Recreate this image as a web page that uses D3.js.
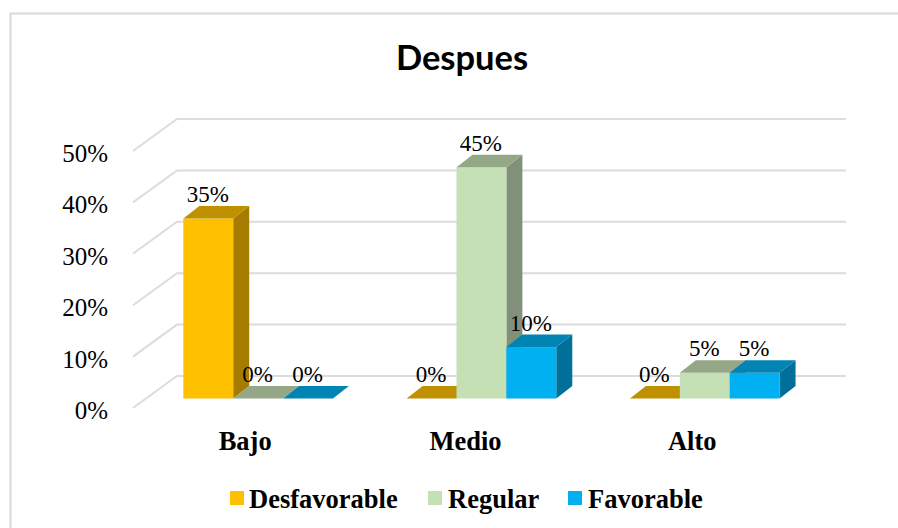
<!DOCTYPE html>
<html><head><meta charset="utf-8">
<script src="https://cdn.jsdelivr.net/npm/d3@7/dist/d3.min.js"></script>
<style>html,body{margin:0;padding:0;background:#fff}svg{display:block}
text{font-family:"Liberation Serif",serif;fill:#000}</style></head>
<body><svg id="c" width="898" height="528"></svg>
<script>
const categories = ["Bajo", "Medio", "Alto"];
const seriesNames = ["Desfavorable", "Regular", "Favorable"];
const desfavorable = [35, 0, 0];
const regular = [0, 45, 5];
const favorable = [0, 10, 5];
const yTicks = [0, 10, 20, 30, 40, 50];
const front = ["#FFC000", "#C5E0B4", "#00B0F0"];
const top3 = ["#BF9000", "#94A887", "#0084B4"];
const side = ["#A67C00", "#80907A", "#006F9A"];

const values = [desfavorable, regular, favorable];
const svg = d3.select("#c");
const y = d3.scaleLinear().domain([0, 50]).range([398.5, 141.5]);
const x0 = d3.scaleBand().domain(categories).range([146.5, 816.4]).paddingInner(0.33).paddingOuter(0.165);
const x1 = d3.scaleBand().domain(seriesNames).range([0, x0.bandwidth()]);
const dx = 16, dy = 12.5;
const wallDx = 44, wallDy = 32, floorOff = 9.5;

// frame
svg.append("path").attr("d", "M10.5,528V13.5H898").attr("fill", "none").attr("stroke", "#d9d9d9").attr("stroke-width", 2);

// title
svg.append("text").attr("x", 462).attr("y", 70).attr("text-anchor", "middle")
  .style("font-family", "Lato,sans-serif").style("font-weight", 700).style("font-size", "34.5px").text("Despues");

// gridlines on the wall and side
const grid = svg.append("g").attr("fill", "none").attr("stroke", "#dcdcdc").attr("stroke-width", 2);
yTicks.forEach(t => {
  const fy = y(t) + floorOff;
  grid.append("path").attr("d", `M133,${fy}L${133 + wallDx},${fy - wallDy}H846`);
});

// y axis labels
const yAxis = svg.append("g").attr("transform", "translate(108,0)")
  .call(d3.axisLeft(y).tickValues(yTicks).tickFormat(d => d + "%").tickSize(0).tickPadding(0));
yAxis.select(".domain").remove();
yAxis.selectAll("text").attr("dy", "0.32em").attr("transform", "translate(0,12)")
  .style("font-family", "'Liberation Serif',serif").style("font-size", "25px").attr("fill", "#000");

// bars
categories.forEach((cat, i) => {
  const g = svg.append("g");
  seriesNames.forEach((s, j) => {
    const v = values[j][i];
    const a = x0(cat) + x1(s), b = a + x1.bandwidth();
    const t = y(v), base = y(0);
    if (v > 0) {
      g.append("polygon").attr("fill", side[j])
        .attr("points", [[b, t], [b + dx, t - dy], [b + dx, base - dy], [b, base]].join(" "));
      g.append("rect").attr("x", a).attr("y", t).attr("width", b - a).attr("height", base - t).attr("fill", front[j]);
    }
    g.append("polygon").attr("fill", top3[j])
      .attr("points", [[a, t], [a + dx, t - dy], [b + dx, t - dy], [b, t]].join(" "));
  });
});

// data labels
const lab = svg.append("g");
categories.forEach((cat, i) => {
  seriesNames.forEach((s, j) => {
    const v = values[j][i];
    lab.append("text").attr("x", x0(cat) + x1(s) + x1.bandwidth() / 2 - 0.5).attr("y", y(v) - 16.5)
      .attr("text-anchor", "middle").style("font-size", "23px").text(v + "%");
  });
});

// category axis
const catShift = [-13, -16, -12.5];
const xAxis = svg.append("g").attr("transform", "translate(0,450)")
  .call(d3.axisBottom(x0).tickSize(0).tickPadding(0));
xAxis.select(".domain").remove();
xAxis.selectAll("text").attr("dy", 0).attr("y", 0).attr("dx", (d, i) => catShift[i])
  .style("font-family", "'Liberation Serif',serif").style("font-weight", 700).style("font-size", "26.5px").attr("fill", "#000");

// legend
const legendX = [230, 428, 568], legendTx = [249, 448, 588];
seriesNames.forEach((s, j) => {
  svg.append("rect").attr("x", legendX[j]).attr("y", 491).attr("width", 14).attr("height", 14).attr("fill", front[j]);
  svg.append("text").attr("x", legendTx[j]).attr("y", 507.5).style("font-weight", 700).style("font-size", "26.5px").text(s);
});
</script></body></html>
